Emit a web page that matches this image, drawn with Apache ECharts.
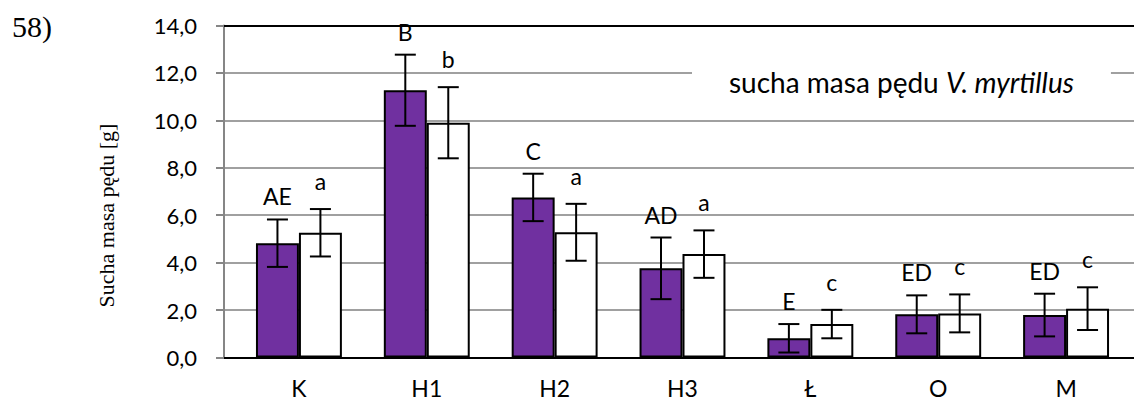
<!DOCTYPE html>
<html>
<head>
<meta charset="utf-8">
<script src="https://cdn.jsdelivr.net/npm/echarts@6/dist/echarts.min.js"></script>
<style>html,body{margin:0;padding:0;background:#fff;}#c{width:1134px;height:401px;}</style>
</head>
<body>
<div id="c"></div>
<script>
var categories = ['K', 'H1', 'H2', 'H3', 'Ł', 'O', 'M'];
var purpleValues = [4.82, 11.27, 6.75, 3.76, 0.81, 1.82, 1.79];
var purpleErrors = [1.0, 1.5, 1.0, 1.3, 0.6, 0.8, 0.9];
var purpleLetters = ['AE', 'B', 'C', 'AD', 'E', 'ED', 'ED'];
var whiteValues = [5.26, 9.90, 5.28, 4.36, 1.41, 1.86, 2.06];
var whiteErrors = [1.0, 1.5, 1.2, 1.0, 0.6, 0.8, 0.9];
var whiteLetters = ['a', 'b', 'a', 'a', 'c', 'c', 'c'];
var yMin = 0, yMax = 14, yStep = 2;

var FONT = 'Lato';
var chart = echarts.init(document.getElementById('c'), null, {renderer: 'svg'});

function errData(vals, errs, letters) {
  return vals.map(function (v, i) { return [i, v, errs[i], letters[i]]; });
}
function makeErr(sign, gap) {
  return function (params, api) {
    var idx = api.value(0);
    var v = api.value(1), e = api.value(2);
    var base = api.coord([idx, 0]);
    var band = api.size([1, 0])[0];
    var cx = base[0] + sign * band * 0.168;
    var yt = api.coord([idx, v + e])[1];
    var yb = api.coord([idx, v - e])[1];
    var cap = 10.5;
    var st = {stroke: '#000', lineWidth: 2};
    return {
      type: 'group',
      children: [
        {type: 'line', shape: {x1: cx, y1: yt, x2: cx, y2: yb}, style: st},
        {type: 'line', shape: {x1: cx - cap, y1: yt, x2: cx + cap, y2: yt}, style: st},
        {type: 'line', shape: {x1: cx - cap, y1: yb, x2: cx + cap, y2: yb}, style: st},
        {type: 'text', style: {text: api.value(3), x: cx, y: yt - gap, textAlign: 'center', textVerticalAlign: 'middle', fontSize: 23, fontFamily: FONT, fill: '#000'}}
      ]
    };
  };
}

var option = {
  animation: false,
  backgroundColor: '#fff',
  title: [
    {text: '58)', left: 12, top: 11, padding: 0, textStyle: {fontFamily: 'Liberation Serif', fontSize: 30, fontWeight: 'normal', color: '#000'}},
    {
      text: '{n|sucha masa pędu }{i|V. myrtillus}',
      left: 692, top: 61, padding: [7, 37, 7, 37], backgroundColor: '#fff', z: 10,
      textStyle: {
        fontWeight: 'normal',
        rich: {
          n: {fontFamily: FONT, fontSize: 28, fontWeight: 'normal', color: '#000'},
          i: {fontFamily: FONT, fontSize: 28, fontWeight: 'normal', fontStyle: 'italic', color: '#000'}
        }
      }
    }
  ],
  grid: [
    {left: 224, right: 0, top: 25.5, bottom: 43.5},
    {left: 235, right: 4, top: 25.5, bottom: 43.5}
  ],
  xAxis: [
    {gridIndex: 0, type: 'category', data: [''], position: 'bottom', axisLine: {lineStyle: {color: '#000', width: 2}}, axisTick: {show: false}, axisLabel: {show: false}, splitLine: {show: false}},
    {gridIndex: 0, type: 'category', data: [''], position: 'top', axisLine: {lineStyle: {color: '#000', width: 2}}, axisTick: {show: false}, axisLabel: {show: false}, splitLine: {show: false}},
    {gridIndex: 1, type: 'category', data: categories, axisLine: {show: false}, axisTick: {show: false}, axisLabel: {margin: 19, fontFamily: FONT, fontSize: 23, color: '#000'}}
  ],
  yAxis: [
    {
      gridIndex: 0, type: 'value', min: yMin, max: yMax, interval: yStep,
      name: 'Sucha masa pędu [g]', nameLocation: 'middle', nameRotate: 90, nameGap: 107,
      nameTextStyle: {fontFamily: 'Liberation Serif', fontSize: 22, color: '#000', padding: [0, 48, 0, 0]},
      axisLine: {show: true, lineStyle: {color: '#868686', width: 2}},
      axisTick: {show: true, length: 8, lineStyle: {color: '#868686', width: 2}},
      splitLine: {show: true, lineStyle: {color: '#a0a0a0', width: 2}},
      axisLabel: {margin: 27, fontFamily: FONT, fontSize: 22, color: '#000', formatter: function (v) { return v.toFixed(1).replace('.', ','); }}
    },
    {gridIndex: 1, type: 'value', min: yMin, max: yMax, interval: yStep, show: false, splitLine: {show: false}}
  ],
  series: [
    {type: 'bar', xAxisIndex: 2, yAxisIndex: 1, data: purpleValues, barWidth: '33.6%', barGap: '0%', itemStyle: {color: '#7030a0', borderColor: '#000', borderWidth: 2}},
    {type: 'bar', xAxisIndex: 2, yAxisIndex: 1, data: whiteValues, barWidth: '33.6%', barGap: '0%', itemStyle: {color: '#fff', borderColor: '#000', borderWidth: 2}},
    {type: 'custom', xAxisIndex: 2, yAxisIndex: 1, data: errData(purpleValues, purpleErrors, purpleLetters), encode: {x: 0, y: 1}, renderItem: makeErr(-1, 23), z: 5},
    {type: 'custom', xAxisIndex: 2, yAxisIndex: 1, data: errData(whiteValues, whiteErrors, whiteLetters), encode: {x: 0, y: 1}, renderItem: makeErr(1, 28), z: 5}
  ]
};
chart.setOption(option);
</script>
</body>
</html>
